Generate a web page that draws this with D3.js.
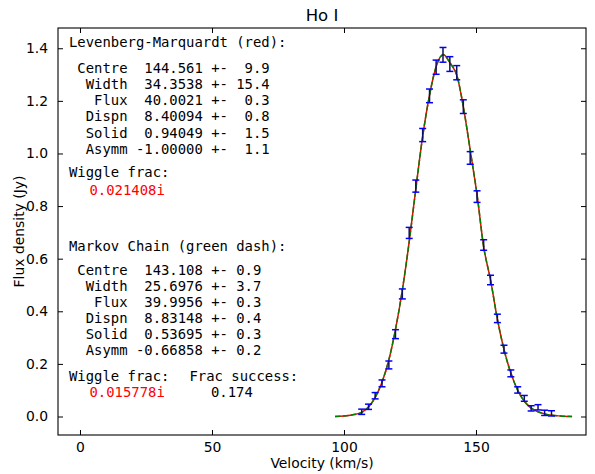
<!DOCTYPE html>
<html lang="en">
  <head>
    <meta charset="UTF-8" />
    <title>Ho I</title>
  </head>
  <style type="text/css">
    body {
      margin: 0;
      background: #fff;
    }
    text {
      font-family: 'DejaVu Sans', sans-serif;
    }
    .mono {
      font-family: 'DejaVu Sans Mono', monospace;
      font-size: 13.9px;
      white-space: pre;
    }
  </style>

  <script src="https://d3js.org/d3.v7.min.js"></script>

  <body>
    <div class="d3Chart"></div>
  </body>
  <script type="text/javascript">
    // observed channels (km/s), flux (Jy) and error
    var velocity = [106.7, 109.3, 111.8, 114.4, 117.0, 119.5, 122.1, 124.7, 127.2, 129.8, 132.4, 134.9, 137.5, 140.1, 142.7,
      145.2, 147.8, 150.4, 152.9, 155.5, 158.1, 160.6, 163.2, 165.8, 168.3, 170.9, 173.5, 176.0, 178.6]
    var flux = [0.018, 0.037, 0.079, 0.126, 0.196, 0.313, 0.466, 0.698, 0.876, 1.07, 1.219, 1.328, 1.375, 1.34, 1.307,
      1.178, 0.983, 0.836, 0.652, 0.519, 0.373, 0.256, 0.164, 0.101, 0.069, 0.031, 0.035, 0.014, 0.012]
    var fluxErr = [0.01, 0.01, 0.012, 0.013, 0.015, 0.017, 0.019, 0.021, 0.023, 0.025, 0.026, 0.027, 0.028, 0.028, 0.027,
      0.026, 0.024, 0.022, 0.02, 0.018, 0.016, 0.015, 0.013, 0.012, 0.011, 0.01, 0.01, 0.01, 0.01]

    // fitted profiles
    var modelVel = [96.6, 100, 103, 106.7, 109.3, 111.8, 114.4, 117.0, 119.5, 122.1, 124.7, 127.2, 129.8, 132.4, 134.9,
      137.6, 140.2, 142.9, 145.2, 148.0, 150.5, 152.8, 155.6, 158.1, 160.6, 163.2, 165.8, 168.3, 170.9, 173.5, 176.0,
      178.6, 182, 186.4]
    var modelLM = [0.0, 0.002, 0.006, 0.016, 0.036, 0.072, 0.13, 0.215, 0.33, 0.48, 0.665, 0.865, 1.065, 1.222, 1.33,
      1.376, 1.343, 1.292, 1.178, 1.0, 0.836, 0.652, 0.515, 0.37, 0.255, 0.165, 0.1, 0.058, 0.032, 0.018, 0.01,
      0.005, 0.002, 0.0]
    var modelMC = [0.0, 0.002, 0.006, 0.016, 0.036, 0.073, 0.131, 0.216, 0.331, 0.481, 0.664, 0.864, 1.064, 1.221, 1.33,
      1.375, 1.344, 1.292, 1.178, 1.0, 0.836, 0.652, 0.515, 0.37, 0.255, 0.165, 0.1, 0.058, 0.033, 0.018, 0.01,
      0.005, 0.002, 0.0]

    // fit parameters
    var paramNames = ['Centre', 'Width', 'Flux', 'Dispn', 'Solid', 'Asymm']
    var lmValues = ['144.561', '34.3538', '40.0021', '8.40094', '0.94049', '-1.00000']
    var lmErrors = ['9.9', '15.4', '0.3', '0.8', '1.5', '1.1']
    var mcValues = ['143.108', '25.6976', '39.9956', '8.83148', '0.53695', '-0.66858']
    var mcErrors = ['0.9', '3.7', '0.3', '0.4', '0.3', '0.2']
    var lmWiggle = '0.021408i'
    var mcWiggle = '0.015778i'
    var fracSuccess = '0.174'

    var xTicks = [0, 50, 100, 150]
    var yTicks = [0.0, 0.2, 0.4, 0.6, 0.8, 1.0, 1.2, 1.4]

    var width = 595
    var height = 474
    var margin = { left: 58, right: 9, top: 28, bottom: 39 }

    var svg = d3
      .select('.d3Chart')
      .append('svg')
      .attr('width', width)
      .attr('height', height)

    var x = d3.scaleLinear().domain([-8.33, 191.67]).range([margin.left, width - margin.right])
    var y = d3.scaleLinear().domain([-0.0703, 1.477]).range([height - margin.bottom, margin.top])

    // 坐标轴 (ticks inward on all four sides)
    var tickLen = 5
    var bottomAxis = d3.axisBottom(x).tickValues(xTicks).tickSize(-tickLen).tickPadding(7).tickFormat(d3.format('d'))
    var topAxis = d3.axisTop(x).tickValues(xTicks).tickSize(-tickLen).tickFormat('')
    var leftAxis = d3.axisLeft(y).tickValues(yTicks).tickSize(-tickLen).tickPadding(tickLen + 5).tickFormat(d3.format('.1f'))
    var rightAxis = d3.axisRight(y).tickValues(yTicks).tickSize(-tickLen).tickFormat('')

    function styleAxis(g) {
      g.select('.domain').remove()
      g.selectAll('.tick line').attr('stroke', '#000').attr('stroke-width', 1)
      g.selectAll('.tick text').attr('fill', '#000').style('font-size', '13.9px').style('font-family', 'DejaVu Sans')
    }

    svg.append('g').attr('transform', `translate(0, ${height - margin.bottom})`).call(bottomAxis).call(styleAxis)
    svg.append('g').attr('transform', `translate(0, ${margin.top})`).call(topAxis).call(styleAxis)
    svg.append('g').attr('transform', `translate(${margin.left}, 0)`).call(leftAxis).call(styleAxis)
    svg.append('g').attr('transform', `translate(${width - margin.right}, 0)`).call(rightAxis).call(styleAxis)

    // 边框
    svg
      .append('rect')
      .attr('x', margin.left)
      .attr('y', margin.top)
      .attr('width', width - margin.left - margin.right)
      .attr('height', height - margin.top - margin.bottom)
      .attr('fill', 'none')
      .attr('stroke', '#000')
      .attr('stroke-width', 1.1)

    var plot = svg.append('g')

    var line = d3
      .line()
      .x((d) => x(d[0]))
      .y((d) => y(d[1]))
      .curve(d3.curveMonotoneX)

    plot
      .append('path')
      .attr('d', line(modelVel.map((v, i) => [v, modelLM[i]])))
      .attr('fill', 'none')
      .attr('stroke', '#ff0000')
      .attr('stroke-width', 1.5)

    plot
      .append('path')
      .attr('d', line(modelVel.map((v, i) => [v, modelMC[i]])))
      .attr('fill', 'none')
      .attr('stroke', '#008000')
      .attr('stroke-width', 1.5)
      .attr('stroke-dasharray', '5.5,2.4')

    // 误差棒
    var cap = 3.5
    var bars = plot
      .selectAll('.err')
      .data(velocity.map((v, i) => ({ v: v, f: flux[i], e: fluxErr[i] })))
      .enter()
      .append('g')
      .attr('class', 'err')
      .attr('stroke', '#0000ff')
      .attr('stroke-width', 1.5)

    bars
      .append('line')
      .attr('x1', (d) => x(d.v))
      .attr('x2', (d) => x(d.v))
      .attr('y1', (d) => y(d.f - d.e))
      .attr('y2', (d) => y(d.f + d.e))
      .attr('stroke', '#101060')
    bars
      .append('line')
      .attr('x1', (d) => x(d.v) - cap)
      .attr('x2', (d) => x(d.v) + cap)
      .attr('y1', (d) => y(d.f - d.e))
      .attr('y2', (d) => y(d.f - d.e))
    bars
      .append('line')
      .attr('x1', (d) => x(d.v) - cap)
      .attr('x2', (d) => x(d.v) + cap)
      .attr('y1', (d) => y(d.f + d.e))
      .attr('y2', (d) => y(d.f + d.e))

    // 标题 与 轴标签
    svg
      .append('text')
      .attr('x', (margin.left + width - margin.right) / 2)
      .attr('y', 21)
      .attr('text-anchor', 'middle')
      .style('font-size', '16.5px')
      .text('Ho I')

    svg
      .append('text')
      .attr('x', (margin.left + width - margin.right) / 2)
      .attr('y', 468)
      .attr('text-anchor', 'middle')
      .style('font-size', '13.9px')
      .text('Velocity (km/s)')

    svg
      .append('text')
      .attr('transform', `translate(24, ${(margin.top + height - margin.bottom) / 2}) rotate(-90)`)
      .attr('text-anchor', 'middle')
      .style('font-size', '13.9px')
      .text('Flux density (Jy)')

    // 参数文本
    var textX = 69
    var lineStep = 16.05

    function addText(str, tx, ty, color) {
      svg
        .append('text')
        .attr('class', 'mono')
        .attr('xml:space', 'preserve')
        .attr('x', tx)
        .attr('y', ty)
        .attr('fill', color || '#000')
        .text(str)
    }

    addText('Levenberg-Marquardt (red):', textX, 47.3)
    paramNames.forEach((n, i) => {
      addText(' ' + n.padStart(6) + ' ' + lmValues[i].padStart(8) + ' +- ' + lmErrors[i].padStart(4), textX, 73.3 + i * lineStep)
    })
    addText('Wiggle frac:', textX, 177.3)
    addText(lmWiggle, 89.5, 195, '#ff0000')

    addText('Markov Chain (green dash):', textX, 250.7)
    paramNames.forEach((n, i) => {
      addText(' ' + n.padStart(6) + ' ' + mcValues[i].padStart(8) + ' +- ' + mcErrors[i], textX, 275 + i * lineStep)
    })
    addText('Wiggle frac:', textX, 381)
    addText(mcWiggle, 89.5, 397.3, '#ff0000')
    addText('Frac success:', 189.5, 381)
    addText(fracSuccess, 211, 397.3)
  </script>
</html>
